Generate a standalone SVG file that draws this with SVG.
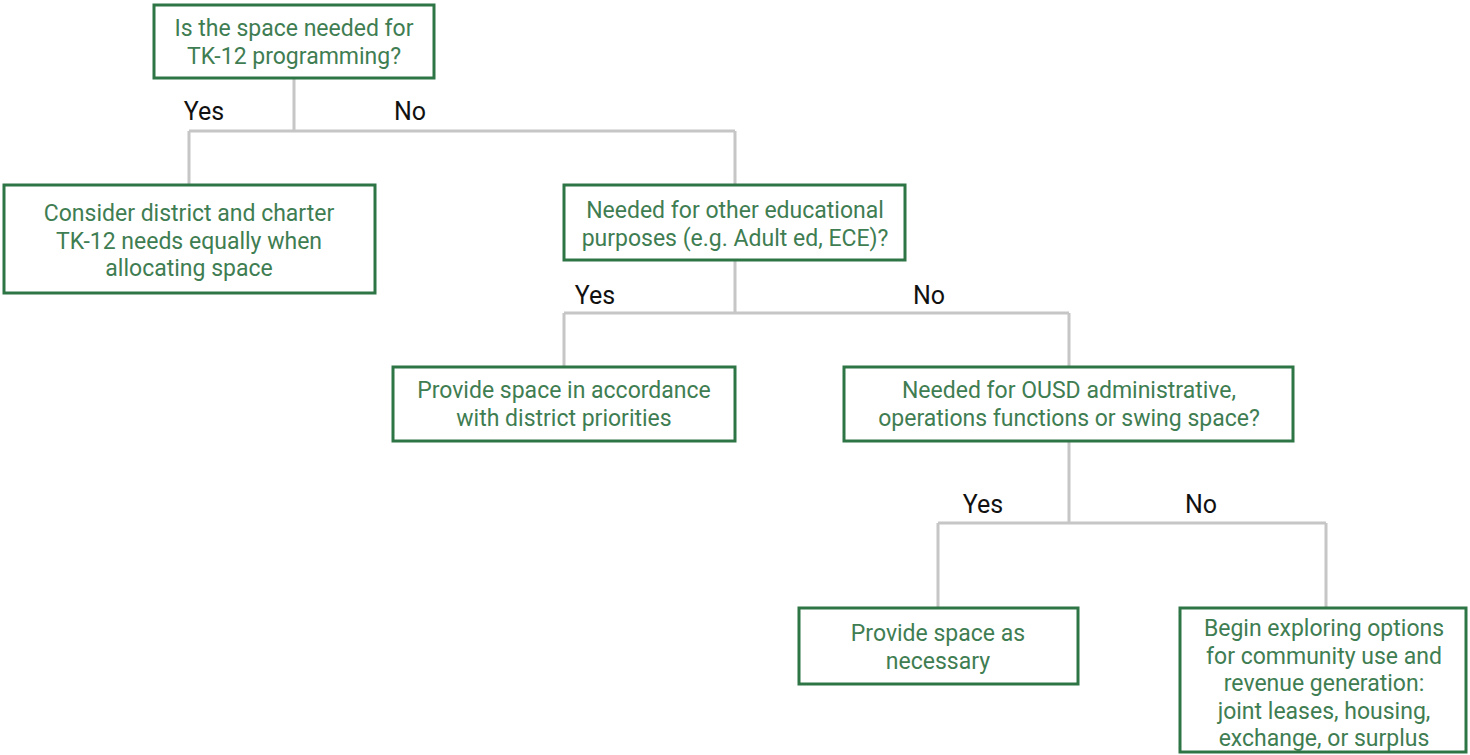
<svg xmlns="http://www.w3.org/2000/svg" width="1470" height="755" viewBox="0 0 1470 755">
<style>
.box{fill:#fff;stroke:#2e7545;stroke-width:3}
.t{font-family:Roboto,"Liberation Sans",sans-serif;font-size:23px;fill:#3f7d52;text-anchor:middle;dominant-baseline:central}
.lbl{font-family:Roboto,"Liberation Sans",sans-serif;font-size:25px;fill:#111;text-anchor:middle;dominant-baseline:central}
.c{fill:none;stroke:#c6c6c6;stroke-width:3}
</style>
<rect width="1470" height="755" fill="#fff"/>
<g id="connectors">
<path class="c" d="M294,78 V131 M189,131 H735 M189,131 V185 M735,131 V185"/>
<path class="c" d="M735,260 V313 M564,313 H1069 M564,313 V367 M1069,313 V367"/>
<path class="c" d="M1069,441 V523 M938,523 H1326 M938,523 V608 M1326,523 V608"/>
</g>
<g id="labels">
<text class="lbl" x="204" y="111">Yes</text>
<text class="lbl" x="410" y="111">No</text>
<text class="lbl" x="595" y="295">Yes</text>
<text class="lbl" x="929" y="295">No</text>
<text class="lbl" x="983" y="504">Yes</text>
<text class="lbl" x="1201" y="504">No</text>
</g>
<g id="q1">
<rect class="box" x="154" y="5" width="280" height="73"/>
<text class="t" x="294" y="28">Is the space needed for</text>
<text class="t" x="294" y="56">TK-12 programming?</text>
</g>
<g id="consider">
<rect class="box" x="4" y="185" width="371" height="108"/>
<text class="t" x="189" y="213">Consider district and charter</text>
<text class="t" x="189" y="241">TK-12 needs equally when</text>
<text class="t" x="189" y="268">allocating space</text>
</g>
<g id="q2">
<rect class="box" x="564" y="185" width="341" height="75"/>
<text class="t" x="735" y="210">Needed for other educational</text>
<text class="t" x="735" y="238">purposes (e.g. Adult ed, ECE)?</text>
</g>
<g id="provide1">
<rect class="box" x="393" y="367" width="342" height="74"/>
<text class="t" x="564" y="390">Provide space in accordance</text>
<text class="t" x="564" y="418">with district priorities</text>
</g>
<g id="q3">
<rect class="box" x="844" y="367" width="449" height="74"/>
<text class="t" x="1069" y="390">Needed for OUSD administrative,</text>
<text class="t" x="1069" y="418">operations functions or swing space?</text>
</g>
<g id="provide2">
<rect class="box" x="799" y="608" width="279" height="76"/>
<text class="t" x="938" y="633">Provide space as</text>
<text class="t" x="938" y="661">necessary</text>
</g>
<g id="explore">
<rect class="box" x="1180" y="608" width="286" height="144"/>
<text class="t" x="1324" y="628">Begin exploring options</text>
<text class="t" x="1324" y="656">for community use and</text>
<text class="t" x="1324" y="683">revenue generation:</text>
<text class="t" x="1324" y="711">joint leases, housing,</text>
<text class="t" x="1324" y="738">exchange, or surplus</text>
</g>
</svg>
